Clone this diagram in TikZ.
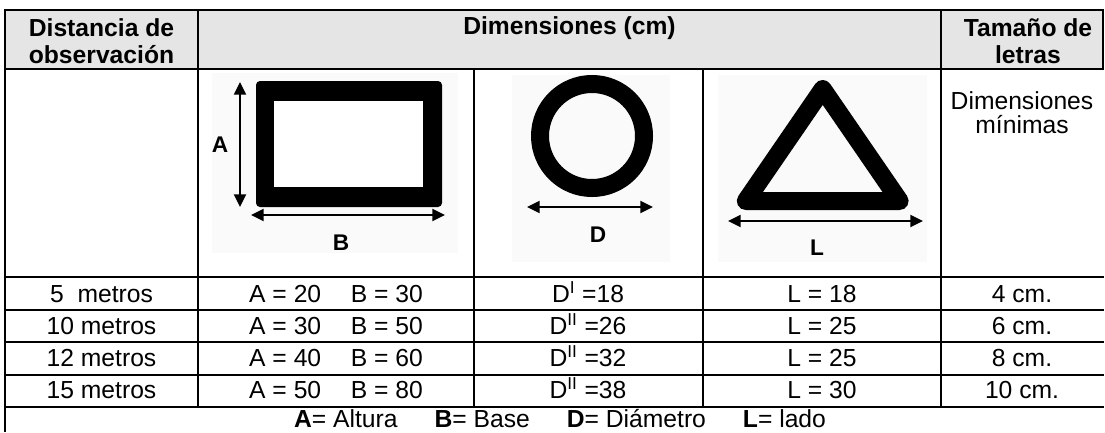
\documentclass[tikz,border=0pt]{standalone}
\usepackage{fontspec}
\setmainfont{Liberation Sans}
\usetikzlibrary{arrows.meta}

\tikzset{
  cell/.style={font=\fontsize{18.5}{20.25}\selectfont, inner sep=0pt, align=center, anchor=base},
  headcell/.style={cell, font=\fontsize{18.5}{20.25}\selectfont\bfseries},
  signlabel/.style={inner sep=0pt, font=\fontsize{17}{18}\selectfont\bfseries},
  rule/.style={line width=2pt},
  measure/.style={line width=1.6pt, {Triangle[length=9.5pt,width=9pt]}-{Triangle[length=9.5pt,width=9pt]}},
  signbg/.style={fill=black!2}
}

\begin{document}
\begin{tikzpicture}[x=0.75pt, y=-0.75pt]
  \useasboundingbox (0,0) rectangle (1105,432);
  \fill[black!10] (5,10) rectangle (1103,69);

  \foreach \y in {10,69,277,310,342,375,407}
    \draw[rule] (4,\y) -- (1104,\y);
  \draw[rule] (5,9) -- (5,432);
  \draw[rule] (198,9) -- (198,407);
  \draw[rule] (474,69) -- (474,407);
  \draw[rule] (703,69) -- (703,407);
  \draw[rule] (941,9) -- (941,407);
  \draw[rule] (1103,9) -- (1103,69);

  \node[headcell] (hdist) at (101.5,63) {Distancia de\\observación};
  \node[headcell] (hdim) at (569.5,34) {Dimensiones (cm)};
  \node[headcell] (hsize) at (1028,63) {Tamaño de\\letras};
  \node[cell, font=\fontsize{18.5}{18}\selectfont] (minsize) at (1022,133) {Dimensiones\\mínimas};

  % rectangulo
  \fill[signbg] (212,73) rectangle (458,253);
  \fill[rounded corners=3pt] (256,81) rectangle (442,207);
  \fill[white] (274,101) rectangle (423,187);
  \coordinate (atop) at (240,82);
  \coordinate (abot) at (240,207);
  \draw[measure] (atop) -- (abot);
  \node[signlabel] (alabel) at (220,145) {A};
  \coordinate (bleft) at (251,215);
  \coordinate (bright) at (445,215);
  \draw[measure] (bleft) -- (bright);
  \node[signlabel] (blabel) at (341,243) {B};

  % circulo
  \fill[signbg] (512,75) rectangle (670,262);
  \draw[line width=13.5pt] (592,136) circle[radius=52];
  \coordinate (dleft) at (527,207);
  \coordinate (dright) at (653,207);
  \draw[measure] (dleft) -- (dright);
  \node[signlabel] (dlabel) at (598,235) {D};

  % triangulo
  \fill[signbg] (718,75) rectangle (927,262);
  \draw[line width=13.5pt, line join=round] (822.7,89) -- (899.6,201) -- (745.8,201) -- cycle;
  \coordinate (lleft) at (728,221);
  \coordinate (lright) at (923,221);
  \draw[measure] (lleft) -- (lright);
  \node[signlabel] (llabel) at (817,248) {L};

  % filas
  \node[cell] (d1) at (101.5,302) {5\ \ metros};
  \node[cell] (d2) at (101.5,334) {10 metros};
  \node[cell] (d3) at (101.5,366) {12 metros};
  \node[cell] (d4) at (101.5,398) {15 metros};
  \node[cell] (r1) at (336,302) {A = 20\hspace{1.2em}B = 30};
  \node[cell] (r2) at (336,334) {A = 30\hspace{1.2em}B = 50};
  \node[cell] (r3) at (336,366) {A = 40\hspace{1.2em}B = 60};
  \node[cell] (r4) at (336,398) {A = 50\hspace{1.2em}B = 80};
  \node[cell] (c1) at (588,302) {D\textsuperscript{I} =18};
  \node[cell] (c2) at (588,334) {D\textsuperscript{II} =26};
  \node[cell] (c3) at (588,366) {D\textsuperscript{II} =32};
  \node[cell] (c4) at (588,398) {D\textsuperscript{II} =38};
  \node[cell] (t1) at (822,302) {L = 18};
  \node[cell] (t2) at (822,334) {L = 25};
  \node[cell] (t3) at (822,366) {L = 25};
  \node[cell] (t4) at (822,398) {L = 30};
  \node[cell] (s1) at (1022,302) {4 cm.};
  \node[cell] (s2) at (1022,334) {6 cm.};
  \node[cell] (s3) at (1022,366) {8 cm.};
  \node[cell] (s4) at (1022,398) {10 cm.};

  \node[cell] (legend) at (560,427) {\textbf{A}= Altura\hspace{1.5em}\textbf{B}= Base\hspace{1.5em}\textbf{D}= Diámetro\hspace{1.5em}\textbf{L}= lado};
\end{tikzpicture}
\end{document}
